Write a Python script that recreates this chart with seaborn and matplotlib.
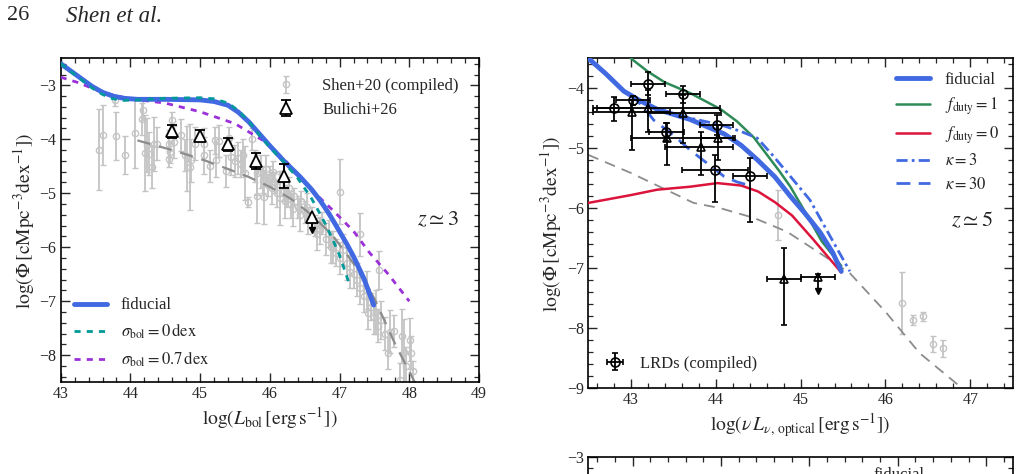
import numpy as np
import pandas as pd
import matplotlib
matplotlib.use("Agg")
import matplotlib.pyplot as plt
import seaborn as sns
from matplotlib.ticker import MultipleLocator

sns.set_style("ticks")
plt.rcParams['font.family'] = ['Liberation Serif', 'DejaVu Serif']
plt.rcParams['mathtext.fontset'] = 'stix'
plt.rcParams['axes.unicode_minus'] = True

# ---------------- data: left panel (z ~ 3) ----------------
fid3_x = [43.0, 43.15, 43.3, 43.45, 43.6, 43.75, 43.9, 44.1, 44.5, 45.0, 45.2, 45.4, 45.55, 45.7,
          45.85, 46.0, 46.2, 46.43, 46.6, 46.72, 46.85, 46.96, 47.1, 47.2, 47.35, 47.49]
fid3_y = [-2.6, -2.74, -2.88, -3.02, -3.13, -3.2, -3.24, -3.26, -3.26, -3.27, -3.3, -3.37, -3.5, -3.68,
          -3.9, -4.12, -4.4, -4.69, -4.93, -5.13, -5.38, -5.62, -5.93, -6.17, -6.58, -7.07]
s0_x = [43.0, 43.15, 43.3, 43.45, 43.6, 43.75, 43.9, 44.1, 44.5, 45.0, 45.2, 45.4, 45.55, 45.7,
        45.85, 46.0, 46.2, 46.4, 46.6, 46.75, 46.9, 47.0, 47.13]
s0_y = [-2.6, -2.75, -2.9, -3.05, -3.17, -3.25, -3.28, -3.27, -3.24, -3.23, -3.25, -3.33, -3.47, -3.67,
        -3.92, -4.15, -4.42, -4.72, -5.1, -5.45, -5.85, -6.15, -6.64]
s07_x = [43.0, 43.25, 43.5, 43.75, 44.0, 44.5, 45.0, 45.5, 45.9, 46.22, 46.6, 46.9, 47.2, 47.43, 47.7, 48.0]
s07_y = [-2.85, -2.95, -3.08, -3.18, -3.25, -3.33, -3.49, -3.71, -4.02, -4.39, -4.94, -5.31, -5.7, -6.1, -6.5, -7.0]
shen_fit_x = [44.1, 44.6, 45.0, 45.4, 45.7, 46.0, 46.3, 46.6, 46.9, 47.2, 47.5, 47.8, 48.1]
shen_fit_y = [-4.02, -4.2, -4.36, -4.55, -4.7, -4.88, -5.1, -5.4, -5.78, -6.3, -6.95, -7.8, -8.55]

shen_x = [43.55, 43.6, 43.78, 43.8, 43.92, 44.07, 44.16, 44.18, 44.21, 44.24, 44.27, 44.31, 44.34, 44.38,
          44.56, 44.57, 44.56, 44.6, 44.62, 44.72, 44.78, 44.81, 44.85, 44.87, 44.92, 45.06, 45.06, 45.14,
          45.21, 45.23, 45.27, 45.37, 45.41, 45.45, 45.5, 45.55, 45.58, 45.62, 45.64, 45.68, 45.74, 45.78,
          45.81, 45.82, 45.88, 45.9, 45.92, 45.95, 45.97, 46.0, 46.03, 46.05, 46.08, 46.1, 46.14, 46.15,
          46.2, 46.22, 46.25, 46.28, 46.3, 46.33, 46.35, 46.4, 46.43, 46.45, 46.5, 46.53, 46.55, 46.6,
          46.65, 46.68, 46.72, 46.75, 46.8, 46.85, 46.88, 46.91, 46.95, 47.0, 47.0, 47.05, 47.1, 47.15,
          47.2, 47.25, 47.29, 47.3, 47.35, 47.39, 47.41, 47.45, 47.5, 47.52, 47.55, 47.56, 47.6, 47.65,
          47.7, 47.72, 47.78, 47.87, 47.89, 47.92, 47.95, 48.01, 48.03, 48.05]
shen_y = [-4.19, -3.92, -3.28, -3.94, -4.29, -3.89, -3.62, -3.45, -4.25, -4.1, -4.27, -4.51, -4.08, -4.08,
          -4.08, -4.23, -4.37, -3.65, -4.05, -3.92, -4.29, -4.35, -4.51, -4.39, -4.08, -4.09, -4.3, -4.49,
          -4.02, -4.39, -4.03, -4.59, -3.98, -4.32, -4.4, -4.35, -4.45, -4.3, -4.63, -5.16, -3.99, -4.5,
          -4.63, -5.05, -4.6, -4.75, -5.06, -4.55, -4.85, -4.7, -4.9, -4.6, -4.8, -5.0, -5.09, -4.85,
          -4.95, -5.15, -5.05, -4.9, -5.2, -5.3, -5.05, -5.25, -5.4, -5.15, -5.35, -5.25, -5.5, -5.45,
          -5.6, -5.75, -5.68, -5.55, -5.85, -5.75, -6.0, -5.99, -6.1, -4.97, -6.2, -6.05, -6.3, -6.45,
          -6.5, -6.6, -5.76, -6.75, -6.9, -6.79, -7.22, -7.1, -7.3, -7.2, -7.45, -6.42, -7.35, -7.6,
          -7.96, -7.56, -7.55, -8.45, -7.65, -7.93, -8.2, -7.71, -7.95, -8.3]
shen_err = [0.75, 0.55, 0.1, 0.45, 0.35, 0.65, 0.3, 0.2, 0.7, 0.5, 0.4, 0.4, 0.5, 0.3,
            0.25, 0.2, 0.15, 0.15, 0.3, 0.3, 0.3, 0.6, 0.8, 0.4, 0.3, 0.3, 0.35, 0.3,
            0.25, 0.3, 0.3, 0.3, 0.2, 0.35, 0.3, 0.3, 0.25, 0.3, 0.5, 0.1, 0.2, 0.3,
            0.4, 0.5, 0.3, 0.25, 0.5, 0.25, 0.2, 0.2, 0.3, 0.2, 0.2, 0.25, 0.5, 0.2,
            0.2, 0.3, 0.2, 0.2, 0.25, 0.3, 0.15, 0.2, 0.3, 0.2, 0.2, 0.25, 0.25, 0.2,
            0.2, 0.3, 0.25, 0.2, 0.3, 0.25, 0.3, 0.3, 0.25, 0.6, 0.3, 0.3, 0.3, 0.3,
            0.25, 0.3, 0.4, 0.3, 0.3, 0.35, 0.3, 0.25, 0.3, 0.4, 0.3, 0.35, 0.35, 0.3,
            0.3, 0.4, 0.3, 0.3, 0.5, 0.6, 0.35, 0.4, 0.3, 0.2]

bul_x = [44.6, 45.0, 45.4, 45.8, 46.2]
bul_y = [-3.85, -3.93, -4.09, -4.4, -4.68]
bul_err = [0.12, 0.1, 0.12, 0.15, 0.22]
bul_lim_x = [46.6]
bul_lim_y = [-5.43]

# ---------------- data: right panel (z ~ 5) ----------------
fid5_x = [42.5, 42.7, 42.92, 43.1, 43.31, 43.7, 44.1, 44.3, 44.49, 44.7, 44.88, 45.05, 45.23, 45.38, 45.48]
fid5_y = [-3.5, -3.75, -4.05, -4.2, -4.35, -4.52, -4.76, -4.95, -5.19, -5.48, -5.8, -6.08, -6.4, -6.74, -7.05]
fd1_x = [43.0, 43.2, 43.4, 43.7, 44.06, 44.25, 44.45, 44.6, 44.75, 44.88, 45.07, 45.25, 45.48]
fd1_y = [-3.5, -3.72, -3.9, -4.08, -4.35, -4.55, -4.82, -5.1, -5.38, -5.64, -6.1, -6.55, -6.96]
fd0_x = [42.5, 43.0, 43.31, 43.7, 44.02, 44.3, 44.5, 44.7, 44.9, 45.15, 45.48]
fd0_y = [-5.91, -5.78, -5.69, -5.64, -5.58, -5.62, -5.72, -5.9, -6.12, -6.52, -7.07]
k3_x = [43.55, 44.06, 44.3, 44.49, 44.65, 44.84, 45.11, 45.35, 45.58]
k3_y = [-4.45, -4.61, -4.72, -4.83, -5.08, -5.4, -5.86, -6.47, -7.05]
k30_x = [43.0, 43.16, 43.27, 43.5, 43.7, 43.9, 44.1, 44.25, 44.4]
k30_y = [-4.1, -4.33, -4.53, -4.78, -5.03, -5.25, -5.47, -5.56, -5.62]
qlf5_x = [42.5, 43.0, 43.74, 44.06, 44.45, 44.84, 45.23, 45.58, 46.01, 46.4, 46.87]
qlf5_y = [-5.11, -5.41, -5.91, -6.0, -6.16, -6.39, -6.75, -7.08, -7.74, -8.41, -8.96]

q5_x = [44.74, 46.2, 46.32, 46.44, 46.56, 46.68]
q5_y = [-6.11, -7.58, -7.86, -7.8, -8.26, -8.33]
q5_err = [0.42, 0.52, 0.08, 0.08, 0.13, 0.14]

lrd_c_x = [42.8, 43.03, 43.2, 43.61, 43.42, 44.01, 43.99, 44.4]
lrd_c_y = [-4.33, -4.2, -3.92, -4.1, -4.73, -4.61, -5.36, -5.46]
lrd_c_xerr = [0.2, 0.2, 0.2, 0.2, 0.21, 0.2, 0.39, 0.2]
lrd_c_ylo = [0.21, 0.08, 0.19, 0.14, 0.15, 0.17, 0.53, 0.76]
lrd_c_yhi = [0.19, 0.08, 0.2, 0.14, 0.15, 0.16, 0.25, 0.3]
lrd_t_x = [43.01, 43.2, 43.61, 43.43, 43.83, 44.03, 44.81]
lrd_t_y = [-4.39, -4.33, -4.41, -4.83, -4.97, -4.83, -7.18]
lrd_t_xlo = [0.45, 0.65, 0.41, 0.43, 0.43, 0.2, 0.2]
lrd_t_xhi = [0.45, 0.85, 0.45, 0.77, 0.37, 0.2, 0.2]
lrd_t_ylo = [0.64, 0.4, 0.5, 0.45, 0.47, 0.36, 0.76]
lrd_t_yhi = [0.2, 0.3, 0.3, 0.25, 0.25, 0.22, 0.52]
lrd_lim_x = [45.2]
lrd_lim_y = [-7.15]

BLUE = '#4169e1'
TEAL = '#009999'
PURPLE = '#9b30d9'
GREEN = '#2e8b57'
RED = '#dc143c'
GRAY = '#c4c4c4'
DGRAY = '#8c8c8c'

fig = plt.figure(figsize=(10.2, 4.74), dpi=100)
ax1 = fig.add_axes([0.0595, 0.1935, 0.4101, 0.6835])
ax2 = fig.add_axes([0.5768, 0.1808, 0.4161, 0.6962])
ax3 = fig.add_axes([0.5768, 0.0359 - 0.6962, 0.4161, 0.6962])


def style_axes(ax, xmaj=1, xmin=0.2, ymaj=1, ymin=0.2):
    ax.xaxis.set_major_locator(MultipleLocator(xmaj))
    ax.xaxis.set_minor_locator(MultipleLocator(xmin))
    ax.yaxis.set_major_locator(MultipleLocator(ymaj))
    ax.yaxis.set_minor_locator(MultipleLocator(ymin))
    ax.tick_params(which='both', direction='in', top=True, right=True, labelsize=11.5, pad=3)
    ax.tick_params(which='major', length=6.5, width=1.0)
    ax.tick_params(which='minor', length=3.5, width=0.9)
    for s in ax.spines.values():
        s.set_linewidth(1.2)
        s.set_color('black')


def line(ax, x, y, **kw):
    df = pd.DataFrame({'x': x, 'y': y})
    sns.lineplot(data=df, x='x', y='y', ax=ax, sort=False, estimator=None, **kw)


def down_arrow(ax, xs, ys, length, color, lw):
    for x, y in zip(xs, ys):
        ax.plot([x, x], [y, y - length], color=color, lw=lw, zorder=5)
        ax.plot([x], [y - length], marker='v', color=color, ms=5, zorder=5)

# ---------------- left panel ----------------
ax = ax1
ax.errorbar(shen_x, shen_y, yerr=shen_err, fmt='o', ms=4.5, mfc='none', mec=GRAY, mew=1.0,
            ecolor=GRAY, elinewidth=1.3, capsize=2, capthick=1.0, zorder=1,
            label='Shen+20 (compiled)')
line(ax, shen_fit_x, shen_fit_y, color=DGRAY, lw=1.6, linestyle=(0, (6, 4)), zorder=2)
line(ax, s07_x, s07_y, color=PURPLE, lw=2.0, linestyle=(0, (2.2, 2.2)), zorder=3,
     label=r'$\sigma_{\rm bol}=0.7\,{\rm dex}$')
line(ax, fid3_x, fid3_y, color=BLUE, lw=3.5, zorder=4, label='fiducial')
line(ax, s0_x, s0_y, color=TEAL, lw=2.0, linestyle=(0, (2.2, 2.2)), zorder=4.5,
     label=r'$\sigma_{\rm bol}=0\,{\rm dex}$')
ax.errorbar(bul_x, bul_y, yerr=bul_err, fmt='^', ms=8, mfc='white', mec='black', mew=1.3,
            ecolor='black', elinewidth=1.4, capsize=3.5, capthick=1.4, zorder=6,
            label='Bulichi+26')
ax.plot(bul_lim_x, bul_lim_y, marker='^', ms=8, mfc='white', mec='black', mew=1.3, ls='none', zorder=6)
down_arrow(ax, bul_lim_x, bul_lim_y, 0.25, 'black', 1.4)
ax.set_xlim(43, 49)
ax.set_ylim(-8.5, -2.5)
style_axes(ax)
ax.set_xlabel(r'$\log(L_{\rm bol}\,[{\rm erg\,s^{-1}}])$', fontsize=14, labelpad=2)
ax.set_ylabel(r'$\log(\Phi\,[{\rm cMpc^{-3}dex^{-1}}])$', fontsize=14, labelpad=2)
ax.text(48.72, -5.5, r'$z\simeq3$', fontsize=16, ha='right', va='center')

handles, labels = ax.get_legend_handles_labels()
hmap = dict(zip(labels, handles))
leg1 = ax.legend([hmap['Shen+20 (compiled)'], hmap['Bulichi+26']], ['Shen+20 (compiled)', 'Bulichi+26'],
                 loc='upper right', frameon=False, fontsize=12, handlelength=1.2, handletextpad=1.6,
                 labelspacing=0.45, borderaxespad=0.8)
ax.add_artist(leg1)
ax.legend([hmap['fiducial'], hmap[r'$\sigma_{\rm bol}=0\,{\rm dex}$'], hmap[r'$\sigma_{\rm bol}=0.7\,{\rm dex}$']],
          ['fiducial', r'$\sigma_{\rm bol}=0\,{\rm dex}$', r'$\sigma_{\rm bol}=0.7\,{\rm dex}$'],
          loc='lower left', frameon=False, fontsize=12, handlelength=2.0, handletextpad=0.8,
          labelspacing=0.5, borderaxespad=0.4)

# ---------------- right panel ----------------
ax = ax2
ax.errorbar(q5_x, q5_y, yerr=q5_err, fmt='o', ms=4.5, mfc='none', mec=GRAY, mew=1.0,
            ecolor=GRAY, elinewidth=1.3, capsize=2, capthick=1.0, zorder=1)
line(ax, qlf5_x, qlf5_y, color=DGRAY, lw=1.3, linestyle=(0, (6, 4)), zorder=2)
line(ax, fd0_x, fd0_y, color=RED, lw=1.8, zorder=3, label=r'$f_{\rm duty}=0$')
line(ax, fd1_x, fd1_y, color=GREEN, lw=1.8, zorder=3, label=r'$f_{\rm duty}=1$')
line(ax, k30_x, k30_y, color=BLUE, lw=2.0, linestyle=(0, (5, 3)), zorder=3, label=r'$\kappa=30$')
line(ax, k3_x, k3_y, color=BLUE, lw=2.0, linestyle=(0, (4, 1.5, 1, 1.5)), zorder=3, label=r'$\kappa=3$')
line(ax, fid5_x, fid5_y, color=BLUE, lw=3.5, zorder=4, label='fiducial')
ekw = dict(mfc='none', mec='black', mew=1.2, ecolor='black', elinewidth=1.3, capsize=2.5,
           capthick=1.3, zorder=6)
ax.errorbar(lrd_c_x, lrd_c_y, xerr=lrd_c_xerr, yerr=[lrd_c_ylo, lrd_c_yhi], fmt='o', ms=6.5,
            label='LRDs (compiled)', **ekw)
ax.errorbar(lrd_t_x, lrd_t_y, xerr=[lrd_t_xlo, lrd_t_xhi], yerr=[lrd_t_ylo, lrd_t_yhi], fmt='^', ms=6, **ekw)
ax.errorbar(lrd_lim_x, lrd_lim_y, xerr=0.2, yerr=[[0], [0.05]], fmt='^', ms=6, **ekw)
down_arrow(ax, lrd_lim_x, lrd_lim_y, 0.22, 'black', 1.3)
ax.set_xlim(42.5, 47.5)
ax.set_ylim(-9, -3.5)
style_axes(ax)
ax.set_xlabel(r'$\log(\nu\,L_{\nu,\,{\rm optical}}\,[{\rm erg\,s^{-1}}])$', fontsize=14, labelpad=2)
ax.set_ylabel(r'$\log(\Phi\,[{\rm cMpc^{-3}dex^{-1}}])$', fontsize=14, labelpad=2)
ax.text(47.27, -6.22, r'$z\simeq5$', fontsize=16, ha='right', va='center')

handles, labels = ax.get_legend_handles_labels()
hmap = dict(zip(labels, handles))
order = ['fiducial', r'$f_{\rm duty}=1$', r'$f_{\rm duty}=0$', r'$\kappa=3$', r'$\kappa=30$']
leg2 = ax.legend([hmap[k] for k in order], order, loc='upper right', frameon=False, fontsize=12,
                 handlelength=2.0, handletextpad=0.9, labelspacing=0.45, borderaxespad=0.4)
ax.add_artist(leg2)
ax.legend([hmap['LRDs (compiled)']], ['LRDs (compiled)'], loc='lower left', frameon=False, fontsize=12,
          handlelength=1.2, handletextpad=0.9, borderaxespad=0.6)

# ---------------- partial bottom panel (cut by the page crop) ----------------
ax = ax3
ax.set_xlim(42.5, 47.3)
ax.set_ylim(-9, -3)
style_axes(ax)
ax.set_xticklabels([])
ytk = [-3, -4, -5, -6, -7, -8, -9]
ax.set_yticks(ytk)
ax.set_yticklabels(['\u22123'] + [''] * (len(ytk) - 1))
fig.text(873 / 1020, 1 - 467 / 474, 'fiducial', fontsize=12, va='top', ha='left')

# ---------------- page header ----------------
fig.text(7 / 1020, 1 - 16 / 474, '26', fontsize=16, va='center', ha='left')
fig.text(66 / 1020, 1 - 16 / 474, 'Shen et al.', fontsize=16.5, va='center', ha='left', style='italic')

fig.savefig('out.png', dpi=100)
